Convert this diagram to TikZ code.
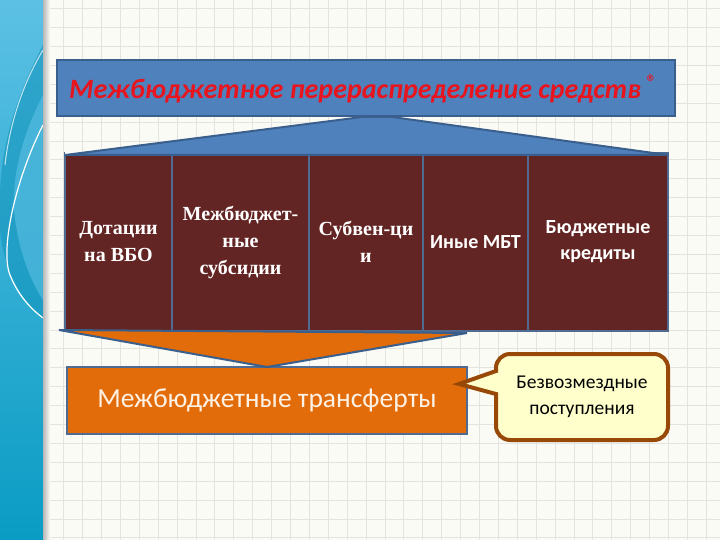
\documentclass[tikz,border=0pt]{standalone}
\usepackage{fontspec}
\setmainfont{Carlito}
\newfontfamily\serifb{Liberation Serif}
\newfontfamily\symfont{DejaVu Sans}
\definecolor{bgc}{HTML}{FBFBF6}
\definecolor{gridc}{HTML}{E3E3E0}
\definecolor{titlefill}{HTML}{4F81BD}
\definecolor{titleborder}{HTML}{3A5F8C}
\definecolor{titletext}{HTML}{E8141E}
\definecolor{maroon}{HTML}{632523}
\definecolor{colborder}{HTML}{4F6B92}
\definecolor{orangefill}{HTML}{E36C0A}
\definecolor{orangetext}{HTML}{FDF1E4}
\definecolor{callfill}{HTML}{FFFFCC}
\definecolor{callborder}{HTML}{984807}
\definecolor{stripTop}{HTML}{5CC0E4}
\definecolor{stripBot}{HTML}{0A9CC4}
\definecolor{stripDark}{HTML}{1192BA}
\begin{document}
\begin{tikzpicture}[x=1pt,y=-1pt,
  gridline/.style={draw=gridc,line width=0.7pt},
  titlebox/.style={draw=titleborder,line width=2pt,fill=titlefill,anchor=north west,
    minimum width=618pt,minimum height=56pt,inner sep=0pt,outer sep=0pt},
  colbox/.style={draw=colborder,line width=1.8pt,fill=maroon,anchor=north west,
    minimum height=178pt,inner sep=0pt,outer sep=0pt,align=center,text=white},
  sertext/.style={font=\serifb\bfseries\fontsize{20}{27}\selectfont},
  santext/.style={font=\bfseries\fontsize{20}{26}\selectfont},
  wedge/.style={draw=titleborder,line width=2pt,line join=miter},
  orangebox/.style={draw=colborder,line width=2pt,fill=orangefill,anchor=north west,
    minimum width=400pt,minimum height=67pt,inner sep=0pt,outer sep=0pt,text=orangetext,
    font=\fontsize{27.5}{30}\selectfont},
  calltext/.style={align=center,font=\fontsize{19.5}{26}\selectfont,inner sep=0pt},
  callshape/.style={draw=callborder,line width=4pt,fill=callfill}
]
\useasboundingbox (0,0) rectangle (720,540);
\fill[bgc] (0,0) rectangle (720,540);
% grid
\foreach \i in {0,...,38} \draw[gridline] ({6.9+18.9*\i},0) -- ({6.9+18.9*\i},540);
\foreach \j in {0,...,28} \draw[gridline] (0,{8.6+18.9*\j}) -- (720,{8.6+18.9*\j});
% left strip
\shade[top color=stripTop,bottom color=stripBot] (0,0) rectangle (43,540);
\fill[stripDark,opacity=0.55] (43,45) .. controls (20,90) and (0,140) .. (0,200)
  -- (0,230) .. controls (5,280) and (25,300) .. (43,320) -- cycle;
\fill[stripTop,opacity=0.6] (43,95) .. controls (25,130) and (12,170) .. (14,210)
  .. controls (18,250) and (30,280) .. (43,300) -- cycle;
\draw[white,line width=1.2pt] (43,125) .. controls (15,180) and (0,250) .. (10,275)
  .. controls (18,295) and (30,308) .. (43,318);
\draw[white,opacity=0.7,line width=1pt] (43,50) .. controls (25,80) and (10,120) .. (5,165);
\shade[left color=black!28,right color=bgc] (43,0) rectangle (50,540);
% title
\node[titlebox] (title) at (57,60) {};
\node[text=titletext,font=\bfseries\itshape\fontsize{28}{32}\selectfont] (titletxt)
  at (362,89) {Межбюджетное перераспределение средств\,\raisebox{0.6em}{\symfont\fontsize{9}{9}\selectfont ®}};
% columns
\node[colbox,minimum width=107pt,sertext] (c1) at (65,153) {Дотации\\на ВБО};
\node[colbox,minimum width=137pt,sertext] (c2) at (c1.north east) {Межбюджет-\\ные\\субсидии};
\node[colbox,minimum width=114pt,sertext] (c3) at (c2.north east) {Субвен-ци\\и};
\node[colbox,minimum width=105pt,santext] (c4) at (c3.north east) {Иные МБТ};
\node[colbox,minimum width=140pt,santext] (c5) at (c4.north east) {Бюджетные\\кредиты};
\draw[white,line width=2pt] (c1.north west) -- (c1.north east);
% blue wedge from title to columns
\coordinate (wl) at ([yshift=-2pt]c1.north west);
\coordinate (wr) at ([yshift=-2pt]c5.north east);
\coordinate (wtl) at (362,117);
\coordinate (wtr) at (392,117);
\filldraw[wedge,fill=titlefill] (wl) -- (wtl) -- (wtr) -- (wr) -- cycle;
% orange wedge from columns to transfer box
\node[orangebox] (tr) at (67,367) {Межбюджетные трансферты};
\coordinate (ol) at ([xshift=-6pt,yshift=1pt]c1.south west);
\coordinate (or) at (467,333);
\filldraw[wedge,fill=orangefill] (ol) -- (tr.north) -- (or) -- cycle;
% callout
\coordinate (tip) at (459,384);
\filldraw[callshape] (496,371) -- (tip) -- (496,394)
  [rounded corners=14pt] -- (496,440) -- (668,440) -- (668,354) -- (496,354) [sharp corners] -- cycle;
\node[calltext] (call) at (582,397) {Безвозмездные\\поступления};
\end{tikzpicture}
\end{document}
